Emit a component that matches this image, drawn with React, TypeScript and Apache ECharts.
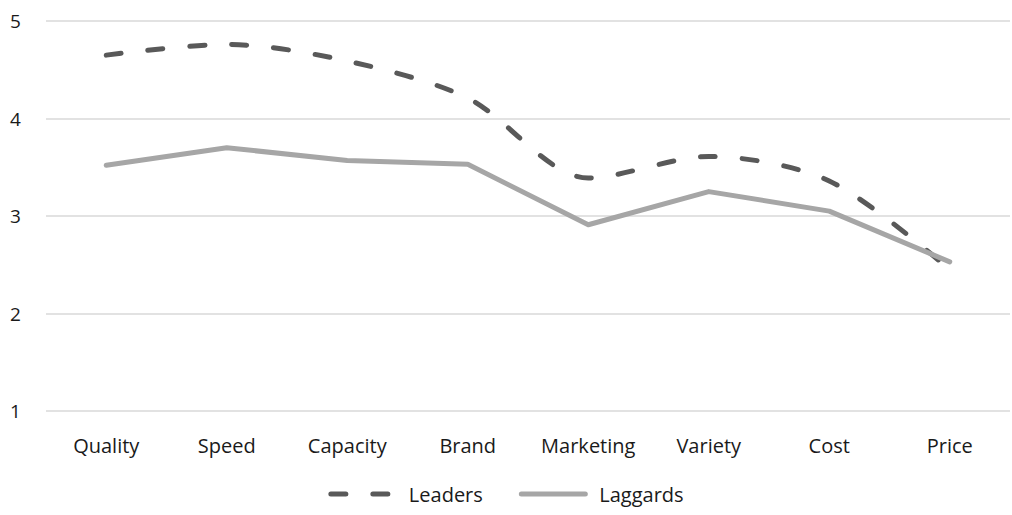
import React, { useEffect, useRef } from "react";
import * as echarts from "echarts";

const categories = ["Quality", "Speed", "Capacity", "Brand", "Marketing", "Variety", "Cost", "Price"];
const leaders = [4.65, 4.76, 4.59, 4.21, 3.39, 3.61, 3.36, 2.45];
const laggards = [3.52, 3.7, 3.57, 3.53, 2.91, 3.25, 3.05, 2.53];
const yTicks = [1, 2, 3, 4, 5];

const FONT = "'Open Sans', 'Liberation Sans', sans-serif";

export default function App() {
  const ref = useRef<HTMLDivElement>(null);
  useEffect(() => {
    if (!ref.current) return;
    const chart = echarts.init(ref.current, undefined, { renderer: "svg" });
    chart.setOption({
      animation: false,
      textStyle: { fontFamily: FONT },
      grid: { left: 46, right: 2, top: 21, bottom: 104, containLabel: false },
      legend: {
        bottom: 6,
        left: "center",
        itemWidth: 64,
        itemHeight: 14,
        itemGap: 36,
        itemStyle: { opacity: 0 },
        lineStyle: { width: 5, cap: "round" },
        textStyle: { fontFamily: FONT, fontSize: 20, color: "#1a1a1a", padding: [0, 0, 0, 9] },
        data: ["Leaders", "Laggards"],
      },
      xAxis: {
        type: "category",
        data: categories,
        boundaryGap: true,
        axisLine: { show: false },
        axisTick: { show: false },
        axisLabel: { color: "#1a1a1a", fontSize: 20, fontFamily: FONT, margin: 24, interval: 0 },
      },
      yAxis: {
        type: "value",
        min: yTicks[0],
        max: yTicks[yTicks.length - 1],
        interval: 1,
        axisLine: { show: false },
        axisTick: { show: false },
        axisLabel: { color: "#1a1a1a", fontSize: 19, fontFamily: FONT, margin: 36, align: "left" },
        splitLine: { lineStyle: { color: "#d9d9d9", width: 1.5 } },
      },
      series: [
        {
          name: "Leaders",
          type: "line",
          data: leaders,
          smooth: 0.3,
          symbol: "none",
          lineStyle: { color: "#595959", width: 5, type: [15, 27], cap: "round" },
          itemStyle: { color: "#595959" },
        },
        {
          name: "Laggards",
          type: "line",
          data: laggards,
          smooth: false,
          symbol: "none",
          lineStyle: { color: "#a6a6a6", width: 5, cap: "round", join: "round" },
          itemStyle: { color: "#a6a6a6" },
        },
      ],
    });
    return () => chart.dispose();
  }, []);
  return <div ref={ref} style={{ width: 1012, height: 515, position: "absolute", left: 0, top: 0 }} />;
}
